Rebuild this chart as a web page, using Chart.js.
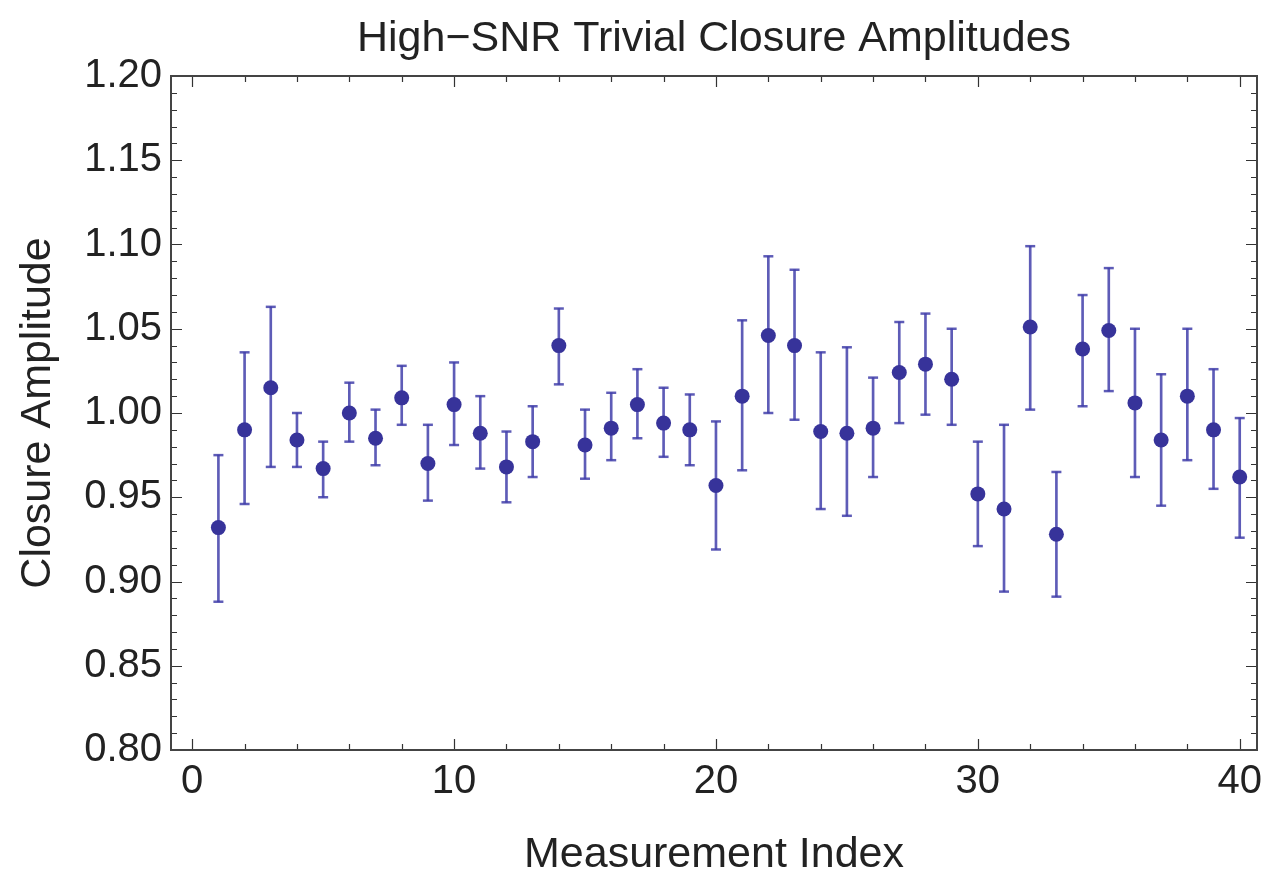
<!DOCTYPE html>
<html>
<head>
<meta charset="utf-8">
<script src="https://cdn.jsdelivr.net/npm/chart.js@4.4.1/dist/chart.umd.min.js"></script>
<style>
  html, body { margin: 0; padding: 0; background: #fff; }
  #wrap { width: 1261px; height: 875px; }
</style>
</head>
<body>
<div id="wrap"><canvas id="grafico"></canvas></div>
<script>
// measurement index 1..40
const indices = [
  1, 2, 3, 4, 5, 6, 7, 8, 9, 10,
  11, 12, 13, 14, 15, 16, 17, 18, 19, 20,
  21, 22, 23, 24, 25, 26, 27, 28, 29, 30,
  31, 32, 33, 34, 35, 36, 37, 38, 39, 40
]

// closure amplitude per measurement
const amplitudes = [
  0.932, 0.990, 1.015, 0.984, 0.967, 1.000, 0.985, 1.009, 0.970, 1.005,
  0.988, 0.968, 0.983, 1.040, 0.981, 0.991, 1.005, 0.994, 0.990, 0.957,
  1.010, 1.046, 1.040, 0.989, 0.988, 0.991, 1.024, 1.029, 1.020, 0.952,
  0.943, 1.051, 0.928, 1.038, 1.049, 1.006, 0.984, 1.010, 0.990, 0.962
]

// top of each error bar
const upper = [
  0.975, 1.036, 1.063, 1.000, 0.983, 1.018, 1.002, 1.028, 0.993, 1.030,
  1.010, 0.989, 1.004, 1.062, 1.002, 1.012, 1.026, 1.015, 1.011, 0.995,
  1.055, 1.093, 1.085, 1.036, 1.039, 1.021, 1.054, 1.059, 1.050, 0.983,
  0.993, 1.099, 0.965, 1.070, 1.086, 1.050, 1.023, 1.050, 1.026, 0.997
]

// bottom of each error bar
const lower = [
  0.888, 0.946, 0.968, 0.968, 0.950, 0.983, 0.969, 0.993, 0.948, 0.981,
  0.967, 0.947, 0.962, 1.017, 0.961, 0.972, 0.985, 0.974, 0.969, 0.919,
  0.966, 1.000, 0.996, 0.943, 0.939, 0.962, 0.994, 0.999, 0.993, 0.921,
  0.894, 1.002, 0.891, 1.004, 1.013, 0.962, 0.945, 0.972, 0.955, 0.926
]

const xMajorTicks = [0, 10, 20, 30, 40]
const yMajorTicks = [0.80, 0.85, 0.90, 0.95, 1.00, 1.05, 1.10, 1.15, 1.20]

const fonte = '"Liberation Sans", Arial, Helvetica, sans-serif'
const corPonto = '#37339a'
const corBarra = 'rgba(66, 64, 170, 0.85)'

// frame with inward ticks on all four sides (mathematica style)
const molduraPlugin = {
  id: 'moldura',
  beforeDatasetsDraw(chart) {
    const { ctx, chartArea: a, scales: { x, y } } = chart
    ctx.save()
    ctx.strokeStyle = '#333'
    ctx.lineWidth = 1.2
    // minor x ticks every 2, major every 10
    for (let v = 0; v <= 40; v += 2) {
      const px = Math.round(x.getPixelForValue(v)) + 0.5
      const len = xMajorTicks.includes(v) ? 11 : 6
      ctx.beginPath()
      ctx.moveTo(px, a.bottom); ctx.lineTo(px, a.bottom - len)
      ctx.moveTo(px, a.top); ctx.lineTo(px, a.top + len)
      ctx.stroke()
    }
    // minor y ticks every 0.01, major every 0.05
    for (let k = 80; k <= 120; k++) {
      const py = Math.round(y.getPixelForValue(k / 100)) + 0.5
      const len = k % 5 === 0 ? 11 : 6
      ctx.beginPath()
      ctx.moveTo(a.left, py); ctx.lineTo(a.left + len, py)
      ctx.moveTo(a.right, py); ctx.lineTo(a.right - len, py)
      ctx.stroke()
    }
    ctx.strokeStyle = '#444'
    ctx.lineWidth = 2
    ctx.strokeRect(a.left, a.top, a.right - a.left, a.bottom - a.top)
    ctx.restore()
  }
}

const pontos = indices.map((i, k) => ({ x: i, y: amplitudes[k] }))
const barras = indices.map((i, k) => ({ x: i, y: [lower[k], upper[k]] }))
const topos = indices.map((i, k) => ({ x: i, y: upper[k] }))
const bases = indices.map((i, k) => ({ x: i, y: lower[k] }))

new Chart(document.getElementById('grafico'), {
  type: 'scatter',
  data: {
    datasets: [
      {
        type: 'scatter',
        label: 'Closure Amplitude',
        data: pontos,
        order: 0,
        pointRadius: 7.5,
        pointBackgroundColor: corPonto,
        pointBorderWidth: 0
      },
      {
        type: 'bar',
        label: 'erro',
        data: barras,
        order: 2,
        barThickness: 2,
        backgroundColor: corBarra,
        borderWidth: 0
      },
      {
        type: 'scatter',
        label: 'topo',
        data: topos,
        order: 1,
        pointStyle: 'line',
        pointRadius: 5,
        pointBorderWidth: 2.5,
        pointBorderColor: corBarra
      },
      {
        type: 'scatter',
        label: 'base',
        data: bases,
        order: 1,
        pointStyle: 'line',
        pointRadius: 5,
        pointBorderWidth: 2.5,
        pointBorderColor: corBarra
      }
    ]
  },
  options: {
    responsive: true,
    maintainAspectRatio: false,
    animation: false,
    layout: { autoPadding: false, padding: { left: 0, right: 4, top: 0, bottom: 0 } },
    plugins: {
      legend: { display: false },
      tooltip: { enabled: false },
      title: {
        display: true,
        fullSize: false,
        text: 'High\u2212SNR Trivial Closure Amplitudes',
        color: '#222',
        font: { family: fonte, size: 43, weight: 'normal', lineHeight: 1.2 },
        padding: { top: 13, bottom: 11.4 }
      }
    },
    scales: {
      x: {
        type: 'linear',
        offset: false,
        min: -0.81,
        max: 40.66,
        grid: { display: false, drawTicks: false },
        border: { display: false },
        ticks: {
          stepSize: 10,
          includeBounds: false,
          autoSkip: false,
          maxRotation: 0,
          padding: 8,
          color: '#222',
          font: { family: fonte, size: 40 },
          callback: (v) => xMajorTicks.includes(v) ? String(v) : ''
        },
        title: {
          display: true,
          text: 'Measurement Index',
          color: '#222',
          font: { family: fonte, size: 43, lineHeight: 0.9 },
          padding: { top: 0, bottom: 1 }
        },
        afterFit: (scale) => {
          scale.height = 125
          // the "40" label may hang past the frame, keep the plot area fixed
          scale.paddingLeft = 0
          scale.paddingRight = 0
        }
      },
      y: {
        min: 0.8,
        max: 1.2,
        grid: { display: false, drawTicks: false },
        border: { display: false },
        ticks: {
          stepSize: 0.05,
          padding: 9,
          color: '#222',
          font: { family: fonte, size: 40 },
          callback: (v) => {
            const r = Math.round(v * 100) / 100
            return yMajorTicks.some(t => Math.abs(t - r) < 1e-6) ? r.toFixed(2) : ''
          }
        },
        title: {
          display: true,
          text: 'Closure Amplitude',
          color: '#222',
          font: { family: fonte, size: 43, lineHeight: 1.2 },
          padding: { top: 12, bottom: 0 }
        },
        afterFit: (scale) => {
          scale.width = 171
          scale.paddingTop = 0
          scale.paddingBottom = 0
        }
      }
    }
  },
  plugins: [molduraPlugin]
})
</script>
</body>
</html>
